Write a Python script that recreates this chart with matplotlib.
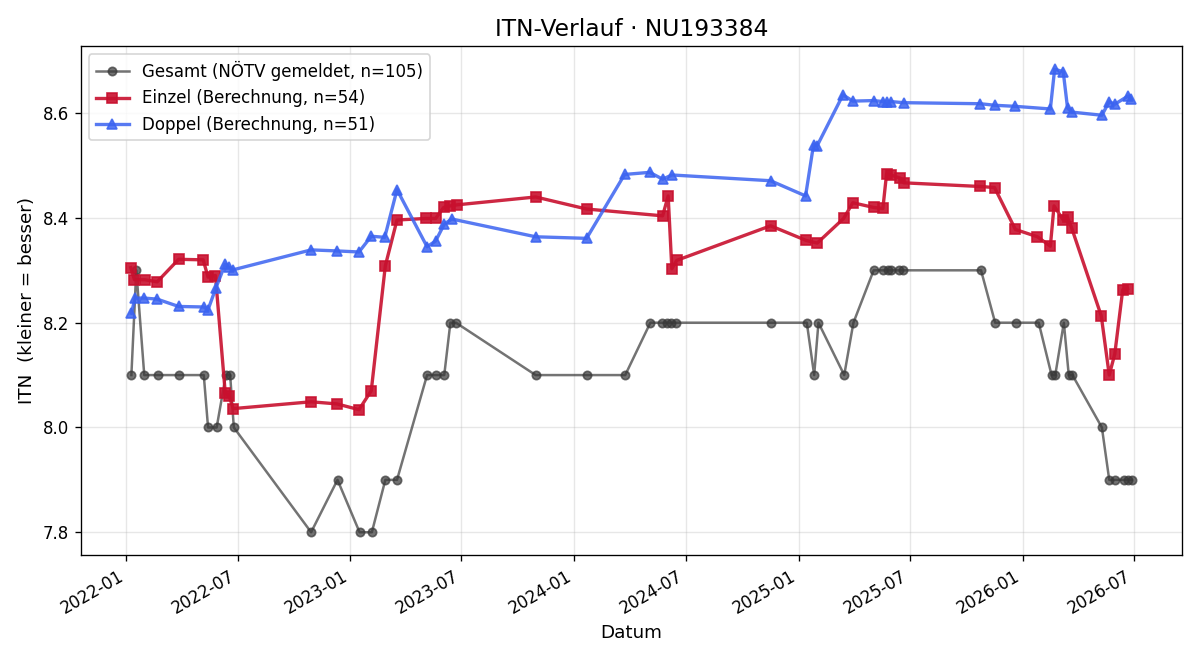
import matplotlib
matplotlib.use("Agg")
import matplotlib.dates as mdates
import matplotlib.pyplot as plt
import pandas as pd

# Gesamt (NÖTV gemeldet)
gesamt_dates = [
    "2022-01-09", "2022-01-17", "2022-01-30", "2022-02-21", "2022-03-27", "2022-05-07",
    "2022-05-14", "2022-05-28", "2022-06-12", "2022-06-19", "2022-06-25", "2022-10-29",
    "2022-12-11", "2023-01-16", "2023-02-05", "2023-02-27", "2023-03-18", "2023-05-06",
    "2023-05-20", "2023-06-03", "2023-06-13", "2023-06-22", "2023-10-30", "2024-01-22",
    "2024-03-24", "2024-05-04", "2024-05-23", "2024-05-31", "2024-06-07", "2024-06-15",
    "2024-11-17", "2025-01-14", "2025-01-26", "2025-02-02", "2025-03-16", "2025-03-31",
    "2025-05-03", "2025-05-18", "2025-05-26", "2025-06-01", "2025-06-13", "2025-06-20",
    "2025-10-25", "2025-11-17", "2025-12-21", "2026-01-27", "2026-02-17", "2026-02-23",
    "2026-03-09", "2026-03-17", "2026-03-23", "2026-05-10", "2026-05-22", "2026-05-31",
    "2026-06-15", "2026-06-22", "2026-06-28",
]
gesamt_itn = [
    8.1, 8.3, 8.1, 8.1, 8.1, 8.1,
    8.0, 8.0, 8.1, 8.1, 8.0, 7.8,
    7.9, 7.8, 7.8, 7.9, 7.9, 8.1,
    8.1, 8.1, 8.2, 8.2, 8.1, 8.1,
    8.1, 8.2, 8.2, 8.2, 8.2, 8.2,
    8.2, 8.2, 8.1, 8.2, 8.1, 8.2,
    8.3, 8.3, 8.3, 8.3, 8.3, 8.3,
    8.3, 8.2, 8.2, 8.2, 8.1, 8.1,
    8.2, 8.1, 8.1, 8.0, 7.9, 7.9,
    7.9, 7.9, 7.9,
]

# Einzel (Berechnung)
einzel_dates = [
    "2022-01-08", "2022-01-14", "2022-01-31", "2022-02-20", "2022-03-27", "2022-05-06",
    "2022-05-14", "2022-05-26", "2022-06-11", "2022-06-17", "2022-06-24", "2022-10-29",
    "2022-12-10", "2023-01-15", "2023-02-04", "2023-02-27", "2023-03-18", "2023-05-04",
    "2023-05-20", "2023-06-02", "2023-06-13", "2023-06-24", "2023-10-30", "2024-01-21",
    "2024-05-24", "2024-06-02", "2024-06-08", "2024-06-16", "2024-11-16", "2025-01-13",
    "2025-01-31", "2025-03-15", "2025-03-30", "2025-05-03", "2025-05-18", "2025-05-24",
    "2025-05-31", "2025-06-15", "2025-06-21", "2025-10-24", "2025-11-16", "2025-12-20",
    "2026-01-25", "2026-02-15", "2026-02-21", "2026-03-08", "2026-03-15", "2026-03-22",
    "2026-05-09", "2026-05-22", "2026-05-31", "2026-06-13", "2026-06-21",
]
einzel_itn = [
    8.305, 8.282, 8.282, 8.278, 8.321, 8.320,
    8.287, 8.290, 8.066, 8.061, 8.036, 8.049,
    8.045, 8.034, 8.070, 8.309, 8.396, 8.399,
    8.399, 8.420, 8.423, 8.425, 8.440, 8.417,
    8.404, 8.442, 8.303, 8.319, 8.385, 8.357,
    8.352, 8.399, 8.429, 8.420, 8.418, 8.484,
    8.482, 8.476, 8.467, 8.460, 8.458, 8.378,
    8.364, 8.346, 8.423, 8.396, 8.401, 8.380,
    8.213, 8.100, 8.140, 8.263, 8.265,
]

# Doppel (Berechnung)
doppel_dates = [
    "2022-01-09", "2022-01-15", "2022-01-30", "2022-02-20", "2022-03-27", "2022-05-07",
    "2022-05-14", "2022-05-27", "2022-06-11", "2022-06-17", "2022-06-24", "2022-10-29",
    "2022-12-10", "2023-01-15", "2023-02-04", "2023-02-26", "2023-03-18", "2023-05-06",
    "2023-05-20", "2023-06-03", "2023-06-15", "2023-10-30", "2024-01-21", "2024-03-23",
    "2024-05-03", "2024-05-24", "2024-06-08", "2024-11-16", "2025-01-12", "2025-01-25",
    "2025-01-31", "2025-03-14", "2025-03-30", "2025-05-03", "2025-05-19", "2025-05-25",
    "2025-06-01", "2025-06-21", "2025-10-24", "2025-11-17", "2025-12-20", "2026-02-15",
    "2026-02-22", "2026-03-08", "2026-03-15", "2026-03-22", "2026-05-10", "2026-05-22",
    "2026-05-31", "2026-06-22", "2026-06-26",
]
doppel_itn = [
    8.218, 8.247, 8.247, 8.245, 8.231, 8.230,
    8.225, 8.267, 8.312, 8.306, 8.301, 8.339,
    8.337, 8.335, 8.365, 8.363, 8.454, 8.345,
    8.356, 8.388, 8.398, 8.364, 8.361, 8.483,
    8.487, 8.474, 8.482, 8.471, 8.442, 8.540,
    8.538, 8.635, 8.623, 8.624, 8.622, 8.622,
    8.622, 8.620, 8.618, 8.615, 8.613, 8.608,
    8.684, 8.679, 8.610, 8.602, 8.596, 8.622,
    8.617, 8.633, 8.627,
]

fig, ax = plt.subplots(figsize=(10, 5.5), dpi=120)

ax.plot(pd.to_datetime(gesamt_dates), gesamt_itn, color="#383838", alpha=0.7,
        marker="o", markersize=5, linewidth=1.5,
        label="Gesamt (NÖTV gemeldet, n=105)")
ax.plot(pd.to_datetime(einzel_dates), einzel_itn, color="#c8102e", alpha=0.9,
        marker="s", markersize=6, linewidth=2,
        label="Einzel (Berechnung, n=54)")
ax.plot(pd.to_datetime(doppel_dates), doppel_itn, color="#3b63f0", alpha=0.85,
        marker="^", markersize=6, linewidth=2,
        label="Doppel (Berechnung, n=51)")

ax.set_title("ITN-Verlauf · NU193384", fontsize=14)
ax.set_xlabel("Datum", fontsize=11)
ax.set_ylabel("ITN  (kleiner = besser)", fontsize=11)
ax.set_yticks([7.8, 8.0, 8.2, 8.4, 8.6])
ax.xaxis.set_major_locator(mdates.MonthLocator(bymonth=[1, 7]))
ax.xaxis.set_major_formatter(mdates.DateFormatter("%Y-%m"))
ax.grid(alpha=0.3)
ax.legend(loc="upper left")
fig.autofmt_xdate()
fig.tight_layout()
fig.savefig("out.png")
